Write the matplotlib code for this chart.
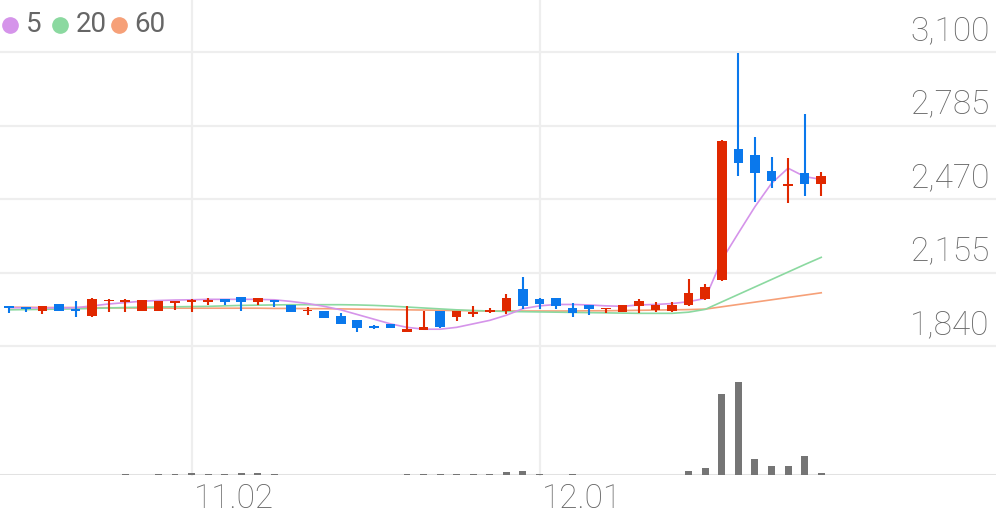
import matplotlib
matplotlib.use("Agg")
from matplotlib import pyplot as plt
from matplotlib.lines import Line2D

# daily candles, values
opens  = [2011, 2008, 1990, 2020, 1998, 1969, 2033, 2030, 1990, 1992,
          2025, 2030, 2030, 2041, 2048, 2030, 2037, 2016, 1990, 1990,
          1970, 1951, 1926, 1933, 1901, 1909, 1990, 1966, 1977, 1988,
          1988, 2083, 2040, 2045, 2004, 2014, 1997, 1986, 2011, 1994,
          1991, 2017, 2040, 2123, 2683, 2659, 2591, 2526, 2580, 2534]
highs  = [2011, 2008, 2010, 2020, 2035, 2046, 2040, 2040, 2037, 2035,
          2033, 2040, 2045, 2041, 2050, 2046, 2037, 2016, 2006, 1990,
          1980, 1951, 1930, 1933, 2011, 1990, 1990, 1990, 2011, 2004,
          2062, 2134, 2047, 2047, 2023, 2017, 2005, 2017, 2040, 2027,
          2027, 2126, 2104, 2722, 3094, 2734, 2649, 2647, 2833, 2584]
lows   = [1983, 1986, 1977, 1990, 1965, 1965, 1986, 1986, 1990, 1992,
          1994, 1986, 2014, 2014, 1990, 2016, 2006, 1987, 1973, 1962,
          1933, 1901, 1915, 1916, 1901, 1909, 1916, 1947, 1966, 1980,
          1976, 1997, 1997, 1997, 1966, 1975, 1980, 1986, 1980, 1986,
          1986, 2011, 2037, 2120, 2569, 2456, 2516, 2452, 2483, 2483]
closes = [2003, 2000, 2010, 1990, 1992, 2042, 2038, 2037, 2037, 2035,
          2032, 2036, 2037, 2030, 2030, 2045, 2028, 1987, 1995, 1962,
          1933, 1918, 1918, 1916, 1915, 1920, 1923, 1990, 1986, 1994,
          2045, 2011, 2020, 2010, 1983, 1998, 2004, 2017, 2033, 2017,
          2017, 2069, 2094, 2720, 2623, 2580, 2547, 2533, 2534, 2569]
volumes = [15, 10, 12, 15, 15, 25, 12, 35, 15, 40,
           40, 85, 50, 50, 115, 115, 65, 25, 25, 25,
           25, 25, 15, 10, 40, 65, 30, 30, 30, 30,
           165, 200, 50, 25, 35, 15, 15, 15, 15, 15,
           25, 215, 365, 4050, 4630, 800, 465, 465, 965, 80]  # thousand shares

ma5  = [2004, 2004, 2003, 2003, 2004, 2012, 2020, 2026, 2032, 2035,
        2037, 2038, 2040, 2040, 2040, 2040, 2038, 2031, 2022, 2010,
        1995, 1975, 1955, 1935, 1920, 1912, 1912, 1920, 1935, 1950,
        1972, 2000, 2012, 2018, 2018, 2016, 2012, 2010, 2016, 2018,
        2022, 2030, 2044, 2209, 2324, 2437, 2537, 2602, 2566, 2554]
ma20 = [1995, 1996, 1997, 1998, 1999, 2001, 2003, 2005, 2006, 2007,
        2008, 2009, 2010, 2012, 2014, 2015, 2016, 2017, 2017, 2017,
        2017, 2016, 2014, 2011, 2007, 2003, 1999, 1995, 1992, 1990,
        1988, 1987, 1986, 1985, 1984, 1983, 1982, 1981, 1980, 1980,
        1980, 1985, 1997, 2029, 2061, 2093, 2125, 2157, 2189, 2220]
ma60 = [2006, 2006, 2005, 2005, 2005, 2004, 2004, 2003, 2003, 2003,
        2002, 2002, 2002, 2002, 2002, 2002, 2001, 2001, 2000, 2000,
        1999, 1998, 1997, 1996, 1995, 1994, 1993, 1992, 1991, 1990,
        1990, 1990, 1990, 1990, 1990, 1991, 1991, 1992, 1993, 1994,
        1995, 1996, 1998, 2008, 2018, 2028, 2038, 2048, 2058, 2068]

price_ticks = [1840, 2155, 2470, 2785, 3100]
date_pos = [11, 32]
date_labels = ["11.02", "12.01"]

ma_names = ["5", "20", "60"]
ma_colors = ["#d594ea", "#8bd9a0", "#f6a078"]
up_color = "#e02800"
down_color = "#0a78ec"
grid_color = "#eeeeee"
text_color = "#666666"

plt.rcParams['font.family'] = ['Roboto', 'DejaVu Sans']

fig = plt.figure(figsize=(9.96, 5.19), dpi=100)
W, H = 996, 519
ax = fig.add_axes([0, (H - 350) / H, 1, 350 / H])
axv = fig.add_axes([0, (H - 475) / H, 1, 120 / H])

n = len(closes)
xs = list(range(n))
x0 = -9.3 / 16.57
x1 = (W - 9.3) / 16.57
for a in (ax, axv):
    a.set_xlim(x0, x1)
    a.axis('off')
ax.set_ylim(3100 - 298 * 315 / 73.5, 3100 + 52 * 315 / 73.5)
axv.set_ylim(0, 6000)

# grid
for p in price_ticks:
    ax.axhline(p, color=grid_color, lw=1.6, zorder=0)
    ax.annotate(f"{p:,}", xy=(1, p), xycoords=('axes fraction', 'data'),
                xytext=(-4.5, 15), textcoords='offset points',
                ha='right', va='center', fontsize=24, color=text_color,
                fontweight='light')
for d, lab in zip(date_pos, date_labels):
    xf = (9.3 + 16.57 * d) / W
    fig.add_artist(Line2D([xf, xf], [(H - 475) / H, 1], color=grid_color,
                          lw=1.6, zorder=0, transform=fig.transFigure))
    axv.annotate(lab, xy=(d, 0), xycoords='data', xytext=(2, -17),
                 textcoords='offset points', ha='left', va='center',
                 fontsize=24, color=text_color, fontweight='light',
                 annotation_clip=False)
axv.axhline(0, color="#e2e2e2", lw=2.2, zorder=1)

# moving averages
for vals, col in zip([ma60, ma20, ma5], ma_colors[::-1]):
    ax.plot(xs, vals, color=col, lw=1.2, zorder=2)

# candles
for i in xs:
    o, h, l, c = opens[i], highs[i], lows[i], closes[i]
    col = up_color if c >= o else down_color
    ax.vlines(i, l, h, color=col, lw=1.5, zorder=3)
    bottom = min(o, c)
    height = max(abs(c - o), 7)
    ax.bar(i, height, bottom=bottom - (height - abs(c - o)) / 2,
           width=0.58, color=col, zorder=4)

# volume
axv.bar(xs, volumes, width=0.42, color="#757575", zorder=2)

# legend
lx = [10, 60, 119]
tx = [26, 76, 134]
for cx, tpos, name, col in zip(lx, tx, ma_names, ma_colors):
    fig.add_artist(Line2D([cx / W], [1 - 25 / H], marker='o', ms=11,
                          color=col, transform=fig.transFigure))
    fig.text(tpos / W, 1 - 25 / H, name, ha='left', va='center',
             fontsize=20, color=text_color)

fig.savefig("out.png", dpi=100)
